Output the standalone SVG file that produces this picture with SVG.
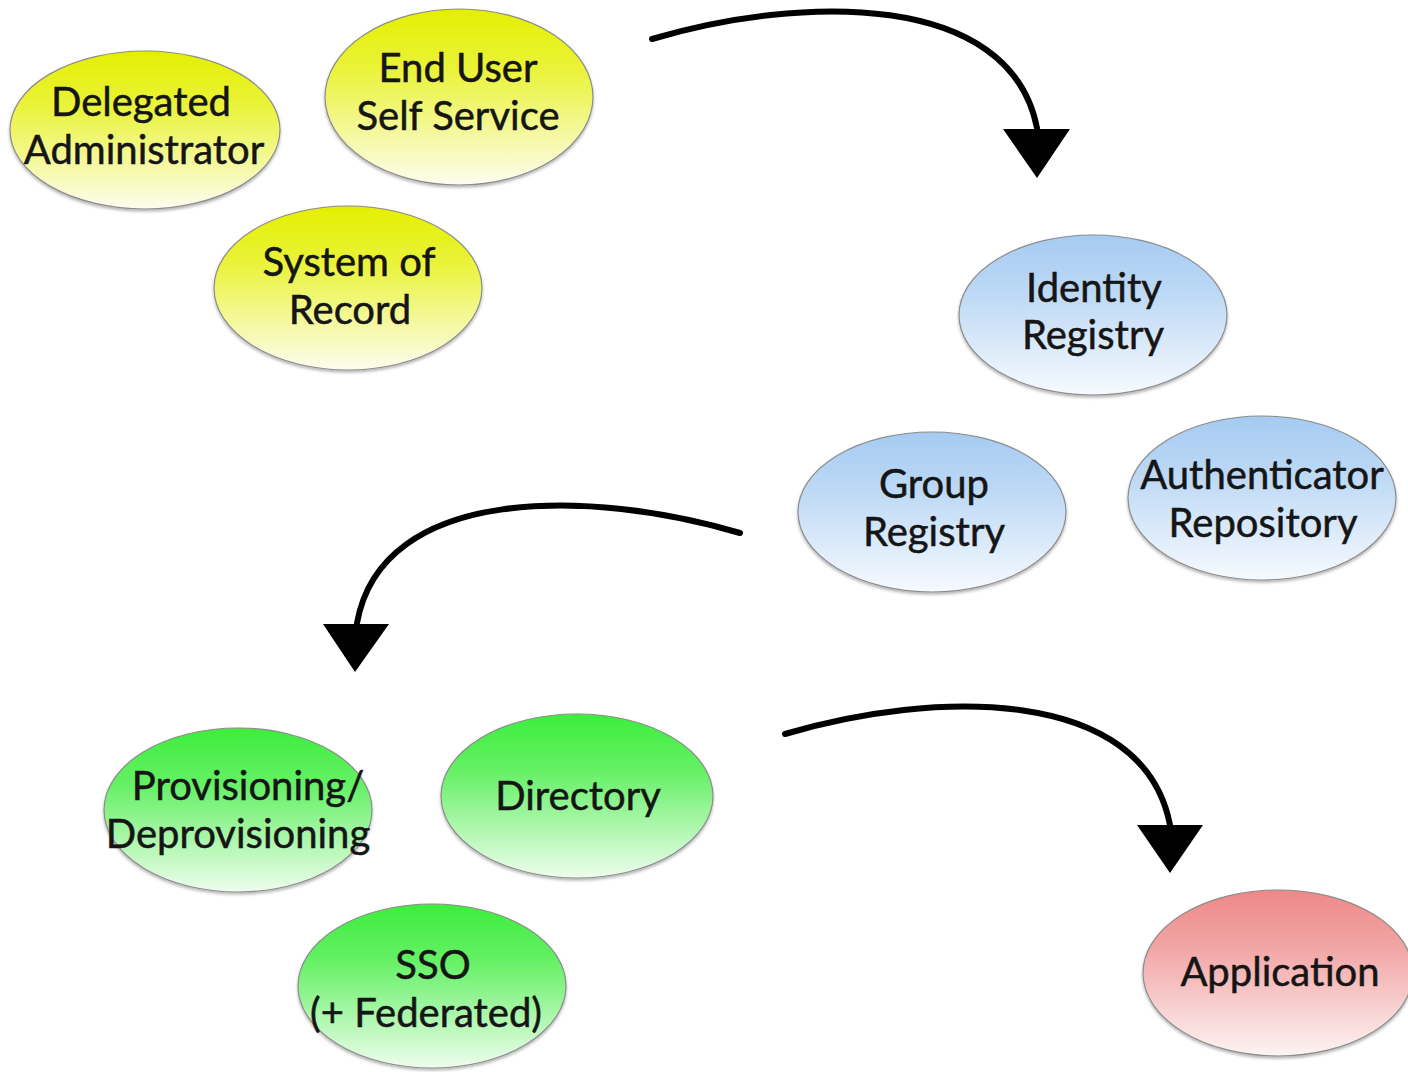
<svg xmlns="http://www.w3.org/2000/svg" width="1408" height="1072" viewBox="0 0 1408 1072">
<defs>
<linearGradient id="gY" x1="0" y1="0" x2="0" y2="1">
<stop offset="0" stop-color="#e4ef00"/>
<stop offset="0.35" stop-color="#eaf33a"/>
<stop offset="1" stop-color="#fdfdf0"/>
</linearGradient>
<linearGradient id="gB" x1="0" y1="0" x2="0" y2="1">
<stop offset="0" stop-color="#a5cbf2"/>
<stop offset="0.35" stop-color="#bcd8f5"/>
<stop offset="1" stop-color="#f6fafe"/>
</linearGradient>
<linearGradient id="gG" x1="0" y1="0" x2="0" y2="1">
<stop offset="0" stop-color="#3cee3c"/>
<stop offset="0.35" stop-color="#66f066"/>
<stop offset="1" stop-color="#eefdee"/>
</linearGradient>
<linearGradient id="gR" x1="0" y1="0" x2="0" y2="1">
<stop offset="0" stop-color="#ee8888"/>
<stop offset="0.35" stop-color="#f2a6a6"/>
<stop offset="1" stop-color="#fdf3f3"/>
</linearGradient>
<filter id="sh" x="-10%" y="-10%" width="120%" height="125%">
<feDropShadow dx="0" dy="2" stdDeviation="1.5" flood-color="#000" flood-opacity="0.3"/>
</filter>
</defs>
<style>
.n ellipse{stroke:#8c8c8c;stroke-width:1.2;filter:url(#sh)}
.n text{font-family:Lato,"Open Sans","DejaVu Sans",sans-serif;font-size:40px;fill:#151515;stroke:#151515;stroke-width:0.5;text-anchor:middle}
.c path.l{fill:none;stroke:#000;stroke-width:6;stroke-linecap:round}
.c polygon{fill:#000}
</style>
<rect width="1408" height="1072" fill="#fff"/>
<g class="c" id="connectors">
<path class="l" d="M652,39 C800,-5 1010,-10 1037,128"/>
<polygon points="1003,129 1070,129 1037,178"/>
<path class="l" d="M740,533 C592,489 382,484 357,623"/>
<polygon points="323,624 389,624 355,672"/>
<path class="l" d="M785,734 C933,690 1143,685 1170,825"/>
<polygon points="1137,825 1203,825 1170,873"/>
</g>
<g class="n" id="delegated-administrator">
<ellipse cx="145" cy="130" rx="135" ry="79" fill="url(#gY)"/>
<text x="141" y="116">Delegated</text>
<text x="144" y="164">Administrator</text>
</g>
<g class="n" id="end-user-self-service">
<ellipse cx="459" cy="97" rx="134" ry="88" fill="url(#gY)"/>
<text x="458" y="82">End User</text>
<text x="458" y="130">Self Service</text>
</g>
<g class="n" id="system-of-record">
<ellipse cx="348" cy="288" rx="134" ry="82" fill="url(#gY)"/>
<text x="349" y="276">System of</text>
<text x="350" y="324">Record</text>
</g>
<g class="n" id="identity-registry">
<ellipse cx="1093" cy="315" rx="134" ry="80" fill="url(#gB)"/>
<text x="1094" y="302">Identity</text>
<text x="1093" y="349">Registry</text>
</g>
<g class="n" id="group-registry">
<ellipse cx="932" cy="512" rx="134" ry="80" fill="url(#gB)"/>
<text x="934" y="498">Group</text>
<text x="934" y="546">Registry</text>
</g>
<g class="n" id="authenticator-repository">
<ellipse cx="1262" cy="498" rx="134" ry="82" fill="url(#gB)"/>
<text x="1262" y="489">Authenticator</text>
<text x="1263" y="537">Repository</text>
</g>
<g class="n" id="provisioning">
<ellipse cx="238" cy="810" rx="134" ry="82" fill="url(#gG)"/>
<text x="248" y="800">Provisioning/</text>
<text x="238" y="848">Deprovisioning</text>
</g>
<g class="n" id="directory">
<ellipse cx="577" cy="796" rx="136" ry="82" fill="url(#gG)"/>
<text x="578" y="810">Directory</text>
</g>
<g class="n" id="sso">
<ellipse cx="432" cy="986" rx="134" ry="82" fill="url(#gG)"/>
<text x="433" y="979">SSO</text>
<text x="426" y="1027">(+ Federated)</text>
</g>
<g class="n" id="application">
<ellipse cx="1278" cy="973" rx="135" ry="83" fill="url(#gR)"/>
<text x="1280" y="986">Application</text>
</g>
</svg>
